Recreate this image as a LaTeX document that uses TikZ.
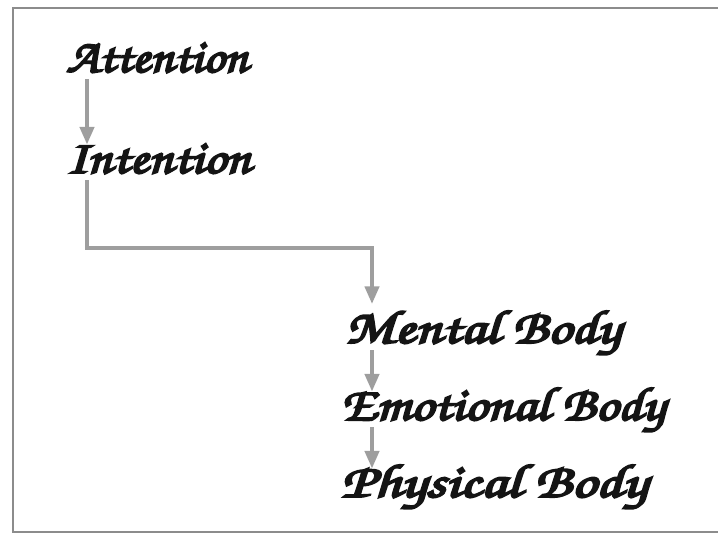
\documentclass[tikz,border=0pt]{standalone}
\usepackage[T1]{fontenc}
\usepackage{graphicx}
\usepackage{tikz}
\usetikzlibrary{arrows.meta}

\newcommand{\chancery}{\fontfamily{pzc}\fontseries{mb}\fontshape{it}\fontsize{27}{27}\selectfont}
\newcommand{\heavy}[2][1.2]{\scalebox{#1}[1]{\special{pdf:literal direct 2 Tr 1.1 w}#2\special{pdf:literal direct 0 Tr}}}

\begin{document}
\begin{tikzpicture}[x=0.02cm,y=-0.02cm,
    stage/.style={anchor=base west,inner sep=0pt,text height=16pt,text depth=4pt,font=\chancery,text=black!92},
    flow/.style={draw=black!38,line width=2.2pt,-{Triangle[width=8pt,length=10pt]}}]

    \useasboundingbox (0,0) rectangle (718,541);
    \draw[black!45,line width=1.3pt] (730,8) -- (13,8) -- (13,532) -- (730,532);

    \node[stage]         (att) at (66, 72)        {\heavy[1.1]{Attention}};
    \node[stage]         (int) at (66, 173)       {\heavy[1.15]{Intention}};
    \node[stage]         (men) at (345, 343)      {\heavy[1.24]{Mental Body}};
    \node[stage]         (emo) at (341, 420)      {\heavy[1.18]{Emotional Body}};
    \node[stage]         (phy) at (341, 497)      {\heavy[1.29]{Physical Body}};

    \coordinate (ax) at (87, 0);
    \coordinate (bend) at (372, 248);

    \draw (att.south west -| ax) edge[flow] (int.north west -| ax);
    \draw[flow] (int.south west -| ax) |- (bend) -- ([yshift=6pt]bend |- men.north);
    \draw (men.south west -| bend) edge[flow] (emo.north west -| bend);
    \draw (emo.south west -| bend) edge[flow] (phy.north west -| bend);
  \end{tikzpicture}
\end{document}
